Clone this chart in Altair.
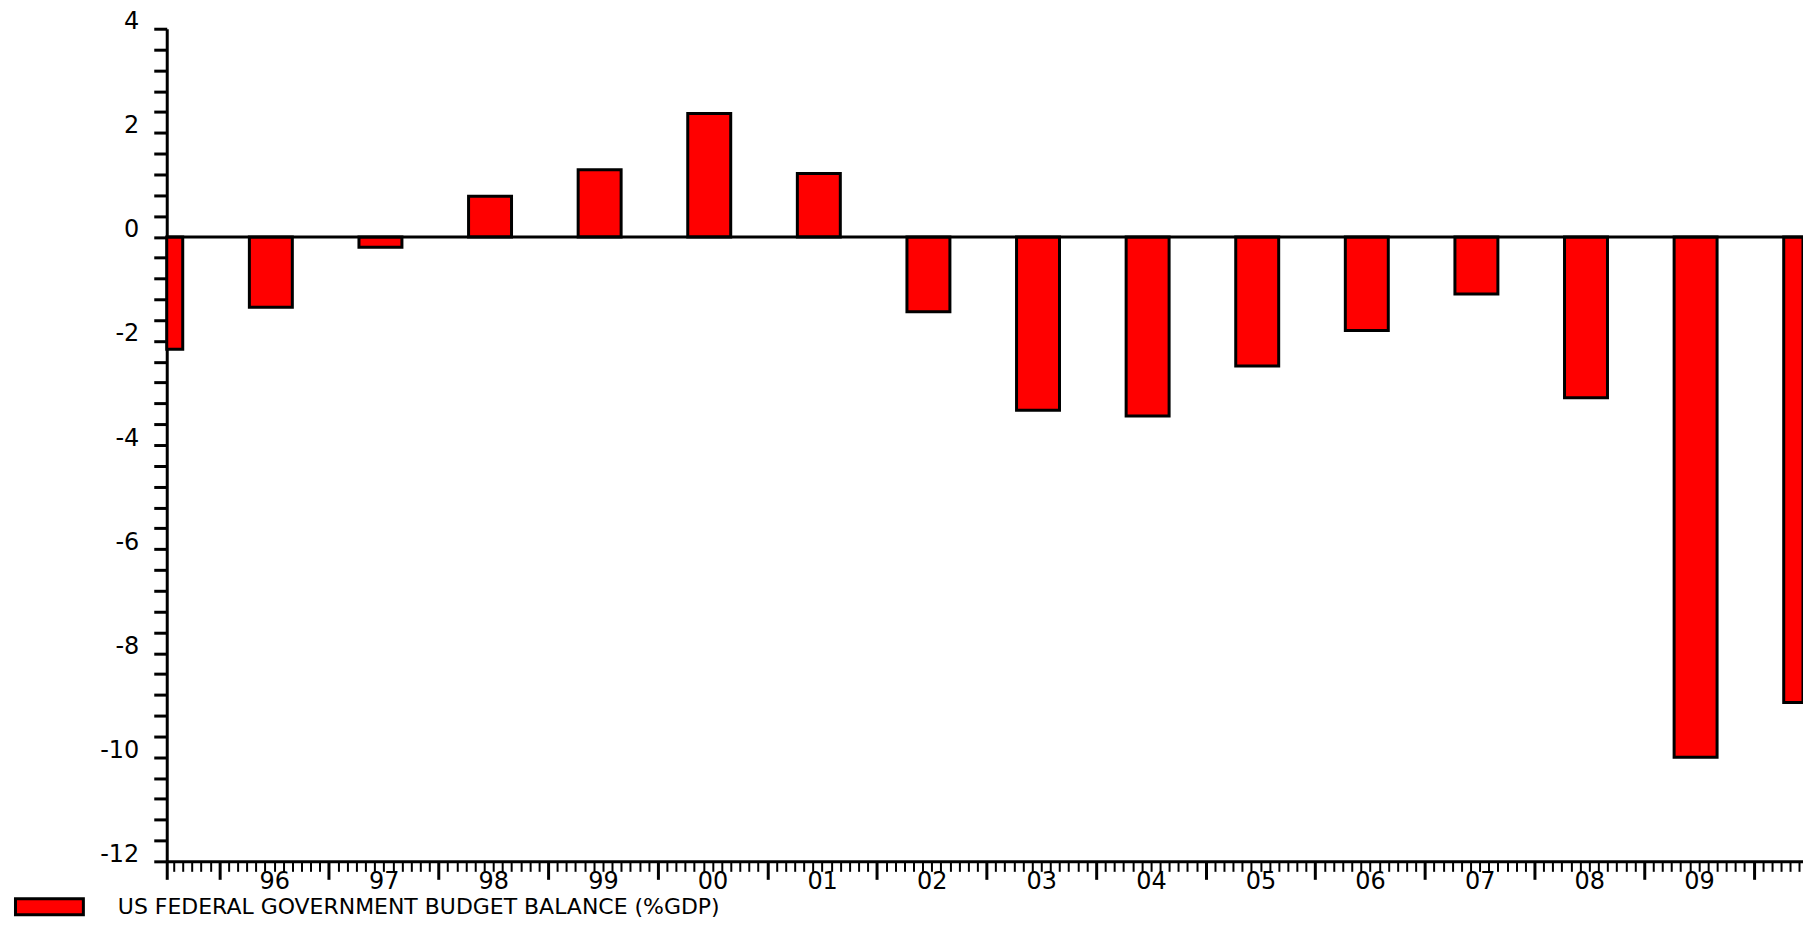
import altair as alt
import pandas as pd

# ---- data ----
years = list(range(1995, 2011))
balance = [-2.16, -1.35, -0.20, 0.78, 1.29, 2.37, 1.22, -1.44,
           -3.33, -3.44, -2.48, -1.80, -1.10, -3.09, -10.00, -8.95]
series_name = "US FEDERAL GOVERNMENT BUDGET BALANCE (%GDP)"

# axis extent (fractional years) and bar geometry
X_MIN, X_MAX = 1995.52, 2010.45
BAR_CENTER = 0.47
BAR_HALF = 0.196

FONT = "DejaVu Sans"

df = pd.DataFrame({"year": years, "balance": balance, "series": [series_name] * len(years)})

x_scale = alt.Scale(domain=[X_MIN, X_MAX], nice=False, zero=False)
y_scale = alt.Scale(domain=[-12, 4], nice=False, zero=False)

# y axis: ticks every 0.4, labels every 2
y_ticks = [round(-12 + 0.4 * i, 1) for i in range(41)]
y_axis = alt.Axis(
    values=y_ticks,
    labelExpr="abs(round(datum.value * 10) % 20) == 0 ? '' + round(datum.value) : ''",
    title=None, grid=False,
    tickSize=13, tickWidth=3, tickColor="black",
    domainColor="black", domainWidth=3,
    labelFont=FONT, labelFontSize=24, labelColor="black",
    labelPadding=15, labelBaseline="alphabetic", labelOverlap=False,
    labelFlush=False, labelBound=False,
)

# x axes: year boundaries (long ticks), months (short ticks), year labels
major_vals = [X_MIN] + list(range(1996, 2011))
minor_vals = [y + m / 12 for y in range(1995, 2011) for m in range(1, 12)
              if X_MIN < y + m / 12 < X_MAX]
label_vals = [y + 0.5 for y in range(1996, 2010)]

major_axis = alt.Axis(values=major_vals, labels=False, title=None, grid=False,
                      tickSize=18, tickWidth=3, tickColor="black",
                      domain=True, domainColor="black", domainWidth=3, orient="bottom")
minor_axis = alt.Axis(values=minor_vals, labels=False, title=None, grid=False,
                      tickSize=10, tickWidth=2, tickColor="black",
                      domain=False, orient="bottom")
label_axis = alt.Axis(values=label_vals, ticks=False, domain=False, title=None, grid=False,
                      labelExpr="slice('0' + (floor(datum.value) % 100), -2)",
                      labelFont=FONT, labelFontSize=24, labelColor="black",
                      labelPadding=8, labelBaseline="top", labelOverlap=False,
                      labelFlush=False, orient="bottom")

legend = alt.Legend(
    title=None, orient="none", legendX=-153, legendY=844, padding=0,
    symbolType="M-1,-0.235H1V0.235H-1Z", symbolSize=4624,
    symbolStrokeColor="black", symbolStrokeWidth=3, symbolOpacity=1,
    labelFont=FONT, labelFontSize=22, labelColor="black", labelLimit=3000,
    labelOffset=33,
)

base = alt.Chart(df).transform_calculate(
    x0=f"max(datum.year + {BAR_CENTER - BAR_HALF}, {X_MIN})",
    x1=f"min(datum.year + {BAR_CENTER + BAR_HALF}, {X_MAX})",
    zero="0",
)

bars = base.mark_rect(stroke="black", strokeWidth=3).encode(
    x=alt.X("x0:Q", scale=x_scale, axis=major_axis),
    x2="x1:Q",
    y=alt.Y("balance:Q", scale=y_scale, axis=y_axis),
    y2="zero:Q",
    fill=alt.Fill("series:N",
                  scale=alt.Scale(domain=[series_name], range=["#ff0000"]),
                  legend=legend),
)

minor = base.mark_point(opacity=0).encode(
    x=alt.X("x0:Q", scale=x_scale, axis=minor_axis)
)
labels = base.mark_point(opacity=0).encode(
    x=alt.X("x1:Q", scale=x_scale, axis=label_axis)
)

zero_line = alt.Chart(pd.DataFrame({"zero": [0]})).mark_rule(
    color="black", strokeWidth=3
).encode(y=alt.Y("zero:Q", scale=y_scale, axis=y_axis))

chart = alt.layer(bars, zero_line, minor, labels).resolve_axis(
    x="independent"
).properties(
    width=1639, height=834,
    autosize=alt.AutoSizeParams(type="none"),
    padding={"left": 159, "top": 20, "right": 0, "bottom": 57},
    background="white",
).configure_view(stroke=None)

chart.save("out.html", embed_options={"renderer": "svg", "actions": False})
